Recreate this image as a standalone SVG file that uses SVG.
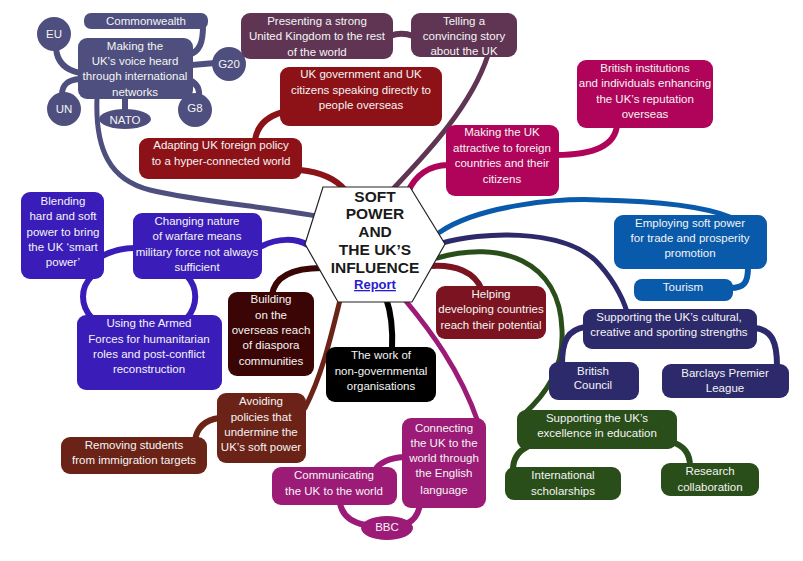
<svg xmlns="http://www.w3.org/2000/svg" width="803" height="561" viewBox="0 0 803 561">
<style>
text{font-family:"Liberation Sans",Arial,sans-serif;font-size:11.5px;fill:#f4f4f4;text-anchor:middle}
.c{fill:none;stroke-width:6;stroke-linecap:round}
.slate{stroke:#4e4f7e}.plum{stroke:#5f3553}.dred{stroke:#8c1218}.crim{stroke:#b0045a}.pur{stroke:#3a1cb9}
.vdr{stroke:#3b0505}.blk{stroke:#000}.brn{stroke:#6b2317}.hlp{stroke:#7b1420}.mag{stroke:#9c1b77}
.grn{stroke:#2a4e19}.nav{stroke:#2d2a6b}.blu{stroke:#0a5aab}
.fslate{fill:#4e4f7e}.fplum{fill:#5f3553}.fdred{fill:#8c1218}.fcrim{fill:#b0045a}.fpur{fill:#3a1cb9}
.fvdr{fill:#3b0505}.fblk{fill:#000}.fbrn{fill:#6b2317}.fhlp{fill:#7b1420}.fmag{fill:#9c1b77}
.fgrn{fill:#2a4e19}.fnav{fill:#2d2a6b}.fblu{fill:#0a5aab}
.hub{font-weight:bold;font-size:15.5px;fill:#1a1a1a}
.rep{font-weight:bold;font-size:13px;fill:#2a1bd0;text-decoration:underline}
</style>
<rect width="803" height="561" fill="#fff"/>
<g id="connectors">
<path class="c slate" d="M80,73 C65,70 57,62 56,48"/>
<path class="c slate" d="M80,79 C66,80 62,86 62,95"/>
<path class="c slate" d="M125,98 L125,112"/>
<path class="c slate" d="M190,80 C198,84 200,90 199,98"/>
<path class="c slate" d="M192,65 L215,63"/>
<path class="c slate" d="M188,55 C200,52 203,42 203,26"/>
<path class="c slate" style="stroke-width:5" d="M97,98 C95,150 110,180 150,190 C200,202 270,207 322,217"/>
<path class="c plum" d="M390,36 C398,33 405,33 413,36"/>
<path class="c plum" style="stroke-width:5" d="M488,55 C470,110 420,160 392,190"/>
<path class="c dred" d="M283,112 C265,117 257,127 255,140"/>
<path class="c dred" d="M300,170 C320,172 335,178 345,190"/>
<path class="c crim" d="M556,155 C590,155 615,148 617,125"/>
<path class="c crim" d="M448,165 C430,165 415,175 408,192"/>
<path class="c pur" d="M102,256 C112,251 122,248 135,248"/>
<path class="c pur" d="M262,246 C278,238 295,238 308,245"/>
<path class="c pur" d="M92,276 C80,288 80,305 92,318"/>
<path class="c pur" d="M187,276 C198,288 198,305 187,318"/>
<path class="c vdr" d="M272,295 C275,275 295,268 322,268"/>
<path class="c blk" d="M386,298 C392,315 393,330 392,350"/>
<path class="c brn" style="stroke-width:5" d="M340,300 C330,340 322,375 305,408"/>
<path class="c brn" d="M219,418 C205,420 197,428 195,440"/>
<path class="c hlp" d="M430,266 C455,264 475,272 482,290"/>
<path class="c mag" style="stroke-width:5" d="M405,300 C430,330 460,370 478,422"/>
<path class="c mag" d="M404,457 C390,458 380,462 375,470"/>
<path class="c mag" d="M340,503 C342,515 350,522 365,525"/>
<path class="c mag" d="M420,505 C418,515 414,520 408,523"/>
<path class="c grn" style="stroke-width:5" d="M437,258 C500,240 560,260 562,330 C564,370 545,395 523,415"/>
<path class="c grn" d="M527,447 C517,452 513,460 513,470"/>
<path class="c grn" d="M672,442 C685,446 690,454 690,466"/>
<path class="c nav" style="stroke-width:5" d="M442,243 C480,232 560,228 595,260 C610,275 622,295 627,312"/>
<path class="c nav" d="M585,327 C568,330 562,340 562,365"/>
<path class="c nav" d="M755,328 C772,330 777,342 777,366"/>
<path class="c blu" style="stroke-width:5" d="M440,232 C480,205 560,198 600,200 C650,201 700,205 730,217"/>
<path class="c blu" d="M748,267 C748,282 745,288 730,288"/>
</g>
<g id="hub">
<polygon points="323,187 410,187 445,244 412,302 338,302 305,244" fill="#fff" stroke="#222" stroke-width="1.2"/>
<text class="hub" x="375" y="202">SOFT</text>
<text class="hub" x="375" y="219">POWER</text>
<text class="hub" x="375" y="237">AND</text>
<text class="hub" x="375" y="255">THE UK’S</text>
<text class="hub" x="375" y="273">INFLUENCE</text>
<text class="rep" x="375" y="289">Report</text>
</g>
<g id="commonwealth"><rect class="fslate" x="84" y="13" width="124" height="16" rx="7"/><text x="146" y="25">Commonwealth</text></g>
<g id="eu"><circle class="fslate" cx="54" cy="34" r="17"/><text x="54" y="38">EU</text></g>
<g id="g20"><circle class="fslate" cx="229" cy="64" r="17"/><text x="229" y="68">G20</text></g>
<g id="un"><circle class="fslate" cx="64" cy="109" r="17"/><text x="64" y="113">UN</text></g>
<g id="g8"><circle class="fslate" cx="195" cy="110" r="17"/><text x="195" y="112">G8</text></g>
<g id="nato"><ellipse class="fslate" cx="125" cy="119" rx="26" ry="10"/><text x="125" y="124">NATO</text></g>
<g id="voice"><rect class="fslate" x="78" y="38" width="115" height="61" rx="9"/>
<text x="135" y="50">Making the</text><text x="135" y="65">UK’s voice heard</text><text x="135" y="80">through international</text><text x="135" y="96">networks</text></g>
<g id="presenting"><rect class="fplum" x="241" y="13" width="152" height="46" rx="9"/>
<text x="317" y="25">Presenting a strong</text><text x="317" y="40">United Kingdom to the rest</text><text x="317" y="56">of the world</text></g>
<g id="telling"><rect class="fplum" x="411" y="13" width="106" height="44" rx="9"/>
<text x="464" y="25">Telling a</text><text x="464" y="40">convincing story</text><text x="464" y="55">about the UK</text></g>
<g id="ukgov"><rect class="fdred" x="280" y="67" width="162" height="59" rx="9"/>
<text x="361" y="78">UK government and UK</text><text x="361" y="94">citizens speaking directly to</text><text x="361" y="109">people overseas</text></g>
<g id="adapting"><rect class="fdred" x="139" y="138" width="163" height="41" rx="9"/>
<text x="221" y="149">Adapting UK foreign policy</text><text x="221" y="165">to a hyper-connected world</text></g>
<g id="british-inst"><rect class="fcrim" x="577" y="60" width="136" height="68" rx="9"/>
<text x="645" y="72">British institutions</text><text x="645" y="87">and individuals enhancing</text><text x="645" y="103">the UK’s reputation</text><text x="645" y="118">overseas</text></g>
<g id="attractive"><rect class="fcrim" x="446" y="125" width="113" height="71" rx="9"/>
<text x="502" y="136">Making the UK</text><text x="502" y="152">attractive to foreign</text><text x="502" y="167">countries and their</text><text x="502" y="183">citizens</text></g>
<g id="blending"><rect class="fpur" x="21" y="192" width="83" height="87" rx="9"/>
<text x="63" y="205">Blending</text><text x="63" y="220">hard and soft</text><text x="63" y="236">power to bring</text><text x="63" y="251">the UK ‘smart</text><text x="63" y="266">power’</text></g>
<g id="changing"><rect class="fpur" x="133" y="213" width="129" height="66" rx="9"/>
<text x="197" y="225">Changing nature</text><text x="197" y="240">of warfare means</text><text x="197" y="256">military force not always</text><text x="197" y="271">sufficient</text></g>
<g id="armed"><rect class="fpur" x="77" y="315" width="145" height="75" rx="9"/>
<text x="149" y="327">Using the Armed</text><text x="149" y="343">Forces for humanitarian</text><text x="149" y="358">roles and post-conflict</text><text x="149" y="373">reconstruction</text></g>
<g id="building"><rect class="fvdr" x="228" y="292" width="86" height="84" rx="9"/>
<text x="271" y="303">Building</text><text x="271" y="319">on the</text><text x="271" y="334">overseas reach</text><text x="271" y="349">of diaspora</text><text x="271" y="365">communities</text></g>
<g id="ngo"><rect class="fblk" x="326" y="347" width="110" height="55" rx="9"/>
<text x="381" y="359">The work of</text><text x="381" y="375">non-governmental</text><text x="381" y="390">organisations</text></g>
<g id="helping"><rect class="fhlp" x="436" y="286" width="110" height="53" rx="9"/>
<text x="491" y="298">Helping</text><text x="491" y="313">developing countries</text><text x="491" y="329">reach their potential</text></g>
<g id="avoiding"><rect class="fbrn" x="217" y="393" width="89" height="70" rx="9"/>
<text x="261" y="405">Avoiding</text><text x="261" y="421">policies that</text><text x="261" y="436">undermine the</text><text x="261" y="451">UK’s soft power</text></g>
<g id="removing"><rect class="fbrn" x="61" y="437" width="146" height="37" rx="9"/>
<text x="134" y="449">Removing students</text><text x="134" y="464">from immigration targets</text></g>
<g id="communicating"><rect class="fmag" x="272" y="467" width="125" height="38" rx="9"/>
<text x="334" y="479">Communicating</text><text x="334" y="495">the UK to the world</text></g>
<g id="connecting"><rect class="fmag" x="402" y="418" width="84" height="90" rx="9"/>
<text x="444" y="432">Connecting</text><text x="444" y="447">the UK to the</text><text x="444" y="462">world through</text><text x="444" y="477">the English</text><text x="444" y="494">language</text></g>
<g id="bbc"><ellipse class="fmag" cx="387" cy="528" rx="26" ry="12"/><text x="387" y="531">BBC</text></g>
<g id="employing"><rect class="fblu" x="614" y="215" width="153" height="54" rx="9"/>
<text x="690" y="227">Employing soft power</text><text x="690" y="242">for trade and prosperity</text><text x="690" y="257">promotion</text></g>
<g id="tourism"><rect class="fblu" x="634" y="279" width="99" height="22" rx="8"/><text x="683" y="291">Tourism</text></g>
<g id="cultural"><rect class="fnav" x="583" y="309" width="174" height="40" rx="9"/>
<text x="669" y="321">Supporting the UK’s cultural,</text><text x="669" y="336">creative and sporting strengths</text></g>
<g id="council"><rect class="fnav" x="549" y="362" width="90" height="38" rx="9"/>
<text x="593" y="375">British</text><text x="593" y="389">Council</text></g>
<g id="premier"><rect class="fnav" x="662" y="364" width="127" height="34" rx="9"/>
<text x="725" y="377">Barclays Premier</text><text x="725" y="392">League</text></g>
<g id="education"><rect class="fgrn" x="517" y="410" width="160" height="39" rx="9"/>
<text x="597" y="422">Supporting the UK’s</text><text x="597" y="437">excellence in education</text></g>
<g id="scholarships"><rect class="fgrn" x="505" y="467" width="116" height="33" rx="9"/>
<text x="563" y="479">International</text><text x="563" y="495">scholarships</text></g>
<g id="research"><rect class="fgrn" x="661" y="463" width="98" height="33" rx="9"/>
<text x="710" y="475">Research</text><text x="710" y="491">collaboration</text></g>
</svg>
